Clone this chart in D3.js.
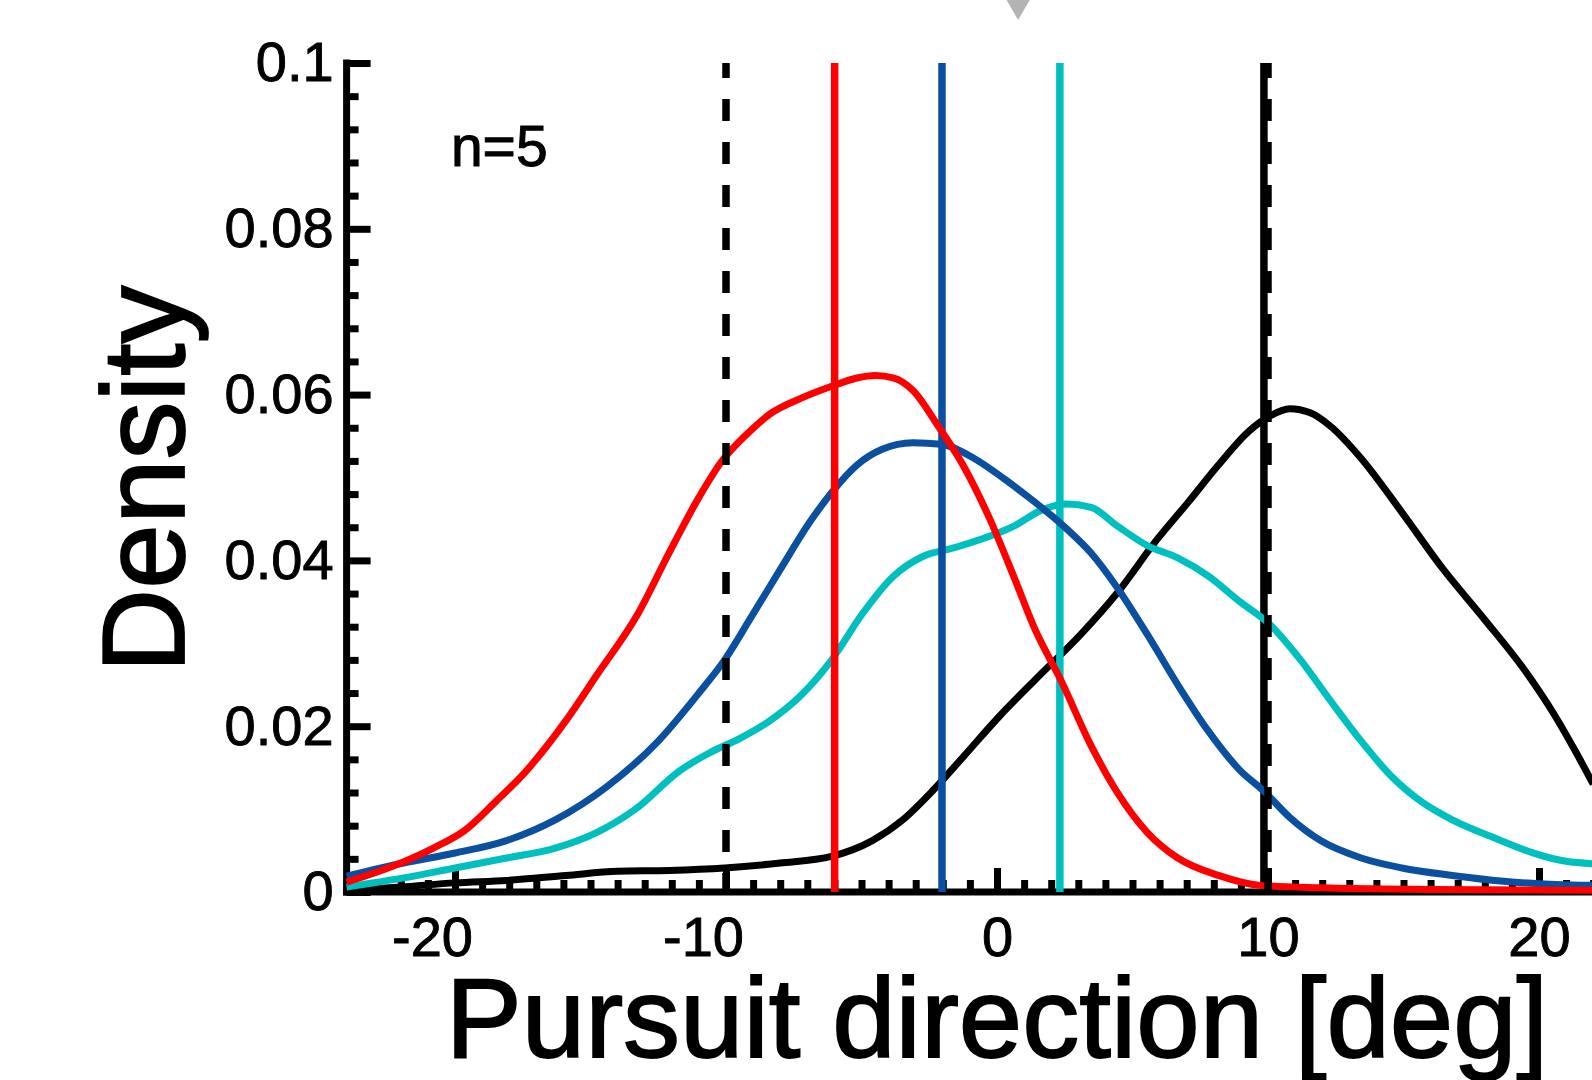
<!DOCTYPE html>
<html>
<head>
    <meta charset="utf-8">
    <title>pursuit direction density</title>
    <script type="text/javascript" src="https://cdn.jsdelivr.net/npm/d3@7/dist/d3.min.js"></script>
    <style>
        body{
            margin:0px;
            background:#fff;
        }
        svg text{
            font-family:"Liberation Sans", Arial, sans-serif;
            fill:#000;
            stroke:#000;
        }
    </style>
</head>
<body>
<div id="chart"></div>
<script>

    // density curves: [direction deg, density]
    var blackCurve = [[-24,0.0002],[-22,0.0006],[-20,0.0011],[-18.1,0.0014],[-15.9,0.0020],[-14.0,0.0025],[-12.1,0.0026],[-10.05,0.0029],[-8.0,0.0035],[-6.1,0.0043],[-4.6,0.0062],[-3.48,0.0087],[-2.35,0.0123],[-1.22,0.0164],[0.09,0.0212],[1.41,0.0256],[3.1,0.0311],[4.42,0.0360],[5.9,0.0425],[7.05,0.0470],[8.17,0.0515],[9.3,0.0556],[10.06,0.0574],[10.8,0.0583],[11.56,0.0578],[12.3,0.0562],[13.44,0.0523],[14.94,0.0458],[16.45,0.0390],[17.96,0.0330],[19.46,0.0268],[20.6,0.0212],[21.34,0.0170],[22,0.0130]]
    var cyanCurve = [[-24,0.0006],[-21.9,0.0017],[-20,0.0029],[-18.1,0.0041],[-16.3,0.0053],[-14.76,0.0072],[-13.26,0.0102],[-11.76,0.0145],[-10.6,0.0168],[-9.5,0.0185],[-8.36,0.0207],[-7.24,0.0237],[-6.1,0.0280],[-4.98,0.0335],[-3.85,0.0380],[-2.72,0.0405],[-1.6,0.0415],[-0.46,0.0427],[0.66,0.0442],[1.6,0.0460],[2.54,0.0468],[3.47,0.0464],[4.42,0.0442],[5.54,0.0418],[6.67,0.0403],[7.8,0.0381],[8.93,0.0351],[10.06,0.0323],[11.2,0.0280],[12.3,0.0231],[13.44,0.0182],[14.57,0.0139],[15.7,0.0108],[16.8,0.0087],[18.3,0.0066],[19.8,0.0047],[21,0.0037],[22,0.0034]]
    var blueCurve = [[-24,0.0019],[-21.9,0.0035],[-20.0,0.0047],[-18.1,0.0062],[-16.3,0.0087],[-14.4,0.0127],[-12.5,0.0182],[-11.0,0.0240],[-10.05,0.0280],[-9.1,0.0330],[-7.98,0.0390],[-6.87,0.0448],[-6.1,0.0482],[-5.17,0.0515],[-4.24,0.0534],[-3.1,0.0542],[-2.06,0.0540],[-0.84,0.0523],[0.28,0.0498],[1.41,0.0470],[2.54,0.0439],[3.47,0.0409],[4.42,0.0368],[5.54,0.0311],[6.67,0.0250],[7.8,0.0194],[8.93,0.0148],[9.87,0.0121],[10.8,0.0090],[11.94,0.0062],[13.44,0.0041],[14.94,0.0029],[16.8,0.0020],[18.7,0.0013],[20.6,0.0009],[22,0.0008]]
    var redCurve = [[-24.0,0.0012],[-22.3,0.0031],[-20.8,0.0053],[-19.65,0.0074],[-18.5,0.0109],[-17.4,0.0145],[-15.9,0.0207],[-14.76,0.0262],[-13.26,0.0335],[-12.1,0.0409],[-11.0,0.0476],[-10.17,0.0519],[-9.3,0.0550],[-8.36,0.0577],[-7.2,0.0596],[-6.1,0.0610],[-5.17,0.0620],[-4.5,0.0623],[-3.8,0.0620],[-3.1,0.0605],[-2.17,0.0562],[-1.22,0.0513],[-0.28,0.0451],[0.65,0.0378],[1.4,0.0317],[2.35,0.0256],[3.48,0.0176],[4.42,0.0121],[5.54,0.0072],[6.67,0.0041],[8.17,0.0020],[9.7,0.0008],[11.94,0.0005],[16,0.0003],[22,0.0002]]

    // mean direction of each condition (solid vertical lines)
    var conditions = ["black","cyan","blue","red"]
    var means = [9.85, 2.32, -2.03, -5.99]
    var colors = {
        "black":"#000000",
        "cyan":"#00bfbf",
        "blue":"#0a4fa0",
        "red":"#ff0000"
    }
    var curves = {"black":blackCurve,"cyan":cyanCurve,"blue":blueCurve,"red":redCurve}

    // dashed reference directions
    var targets = [-10, 10]
    var markerX = 0.78

    var xTicks = [-20,-10,0,10,20]
    var xTickLabels = ["-20","-10","0","10","20"]
    var yTicks = [0,0.02,0.04,0.06,0.08,0.1]
    var yTickLabels = ["0","0.02","0.04","0.06","0.08","0.1"]
    var annotation = "n=5"

    var width = 1592
    var height = 1080
    var svg = d3.select("#chart").append("svg").attr("width",width).attr("height",height)

    var x = d3.scaleLinear()
            .domain([-24,22])
            .range([346.6,1593.2])
    var y = d3.scaleLinear()
            .domain([0,0.1])
            .range([892,63])

    var lw = 7

    //minor ticks
    var yMinor = d3.range(0,0.1001,0.004).filter(function(d){ return Math.abs(d/0.02-Math.round(d/0.02))>1e-6 })
    var xMinor = d3.range(-24,22.5,1).filter(function(d){ return Math.abs(d%10)>0 })

    var yAxis = d3.axisLeft(y).tickValues(yTicks)
                .tickFormat(function(d,i){ return yTickLabels[i] })
                .tickSize(-24).tickSizeOuter(0).tickPadding(13)
    var yAxisMinor = d3.axisLeft(y).tickValues(yMinor).tickSize(-12).tickSizeOuter(0)
    var xAxis = d3.axisBottom(x).tickValues(xTicks)
                .tickFormat(function(d,i){ return xTickLabels[i] })
                .tickSize(-24).tickSizeOuter(0).tickPadding(24)
    var xAxisMinor = d3.axisBottom(x).tickValues(xMinor).tickSize(-12).tickSizeOuter(0)

    var axes = [[yAxis,"translate("+x(-24)+",0)",true],[yAxisMinor,"translate("+x(-24)+",0)",false],
                [xAxis,"translate(0,"+y(0)+")",true],[xAxisMinor,"translate(0,"+y(0)+")",false]]
    axes.forEach(function(a){
        var g = svg.append("g").attr("transform",a[1]).call(a[0])
        g.select(".domain").remove()
        g.selectAll(".tick line").attr("stroke","#000").attr("stroke-width",lw)
        if(a[2]){
            g.selectAll(".tick text").attr("font-size",56).attr("fill","#000").attr("stroke-width",0.9)
        }else{
            g.selectAll(".tick text").remove()
        }
    })
    // negative labels sit a bit left of their tick in the original
    svg.selectAll(".tick text").filter(function(d){ return d<0 && d<-1 })
        .attr("dx",-23)

    svg.append("line")
        .attr("x1",x(-24)).attr("x2",x(-24))
        .attr("y1",y(0.1)).attr("y2",y(0))
        .attr("stroke","#000").attr("stroke-width",lw).attr("stroke-linecap","square")
    svg.append("line")
        .attr("x1",x(-24)).attr("x2",x(22))
        .attr("y1",y(0)).attr("y2",y(0))
        .attr("stroke","#000").attr("stroke-width",lw).attr("stroke-linecap","square")

    var line = d3.line()
            .x(function(d){ return x(d[0]) })
            .y(function(d){ return y(d[1]) })
            .curve(d3.curveMonotoneX)

    conditions.forEach(function(c,i){
        svg.append("path")
            .datum(curves[c])
            .attr("d",line)
            .attr("fill","none")
            .attr("stroke",colors[c])
            .attr("stroke-width",lw)
            .attr("stroke-linejoin","round")
        svg.append("line")
            .attr("x1",x(means[i])).attr("x2",x(means[i]))
            .attr("y1",y(0.1)).attr("y2",y(0))
            .attr("stroke",colors[c])
            .attr("stroke-width",lw+0.5)
    })

    svg.selectAll(".target")
        .data(targets)
        .enter().append("line")
        .attr("class","target")
        .attr("x1",function(d){ return x(d) }).attr("x2",function(d){ return x(d) })
        .attr("y1",y(0.1)).attr("y2",y(0))
        .attr("stroke","#000")
        .attr("stroke-width",lw+0.5)
        .attr("stroke-dasharray","22,21")
        .attr("stroke-dashoffset",7)

    // grey marker above the axes, cut by the top of the figure
    svg.append("path")
        .attr("d",d3.symbol().type(d3.symbolTriangle).size(420))
        .attr("transform","translate("+x(markerX)+",2) rotate(180)")
        .attr("fill","#b3b3b3")

    svg.append("text")
        .attr("x",x(-20.15)).attr("y",y(0.0876))
        .attr("font-size",57)
        .attr("stroke-width",1)
        .text(annotation)

    svg.append("text")
        .attr("transform","translate(184,479) rotate(-90)")
        .attr("text-anchor","middle")
        .attr("font-size",116)
        .attr("stroke-width",1.8)
        .text("Density")

    svg.append("text")
        .attr("x",x(0)).attr("y",1057)
        .attr("text-anchor","middle")
        .attr("font-size",114)
        .attr("stroke-width",1.8)
        .text("Pursuit direction [deg]")

</script>
</body>
</html>
